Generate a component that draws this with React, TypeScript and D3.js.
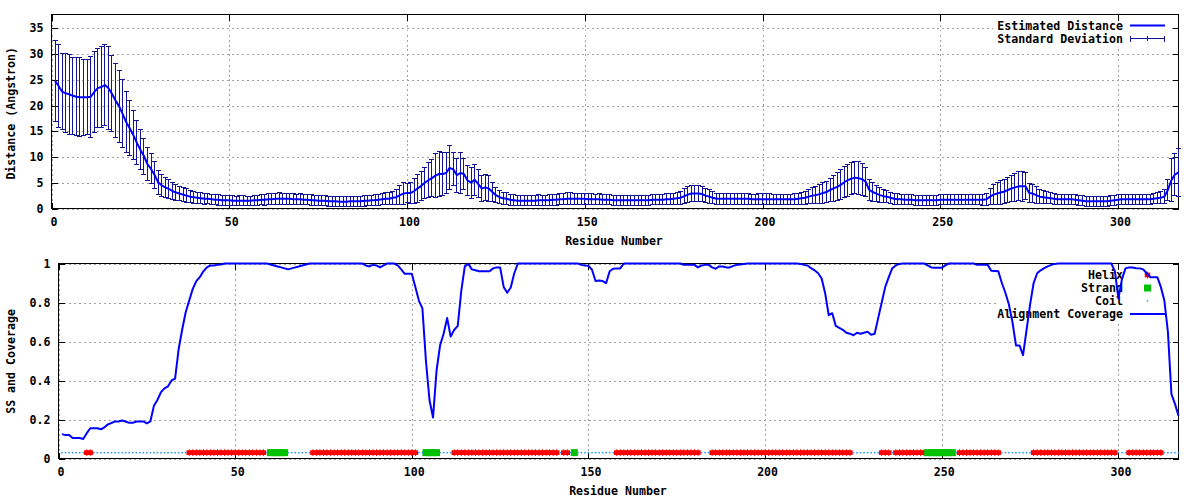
import React from 'react';
import * as d3 from 'd3';

// ---------- DATA (residue i+1 for index i) ----------
const distance = [
  24.8, 23.8, 22.7, 22.4, 22.2, 21.9, 21.7, 21.6, 21.6, 21.6,
  21.7, 22.6, 23.4, 23.6, 24.0, 23.4, 22.3, 21.0, 19.9, 18.4,
  16.8, 15.6, 14.3, 12.8, 11.4, 10.2, 8.6, 7.7, 6.5, 5.1,
  4.5, 4.1, 3.8, 3.4, 3.1, 2.9, 2.7, 2.5, 2.3, 2.2,
  2.1, 2.0, 1.9, 1.9, 1.8, 1.7, 1.7, 1.6, 1.6, 1.6,
  1.5, 1.5, 1.5, 1.5, 1.5, 1.5, 1.6, 1.6, 1.7, 1.7,
  1.8, 1.8, 1.9, 1.9, 1.9, 1.9, 1.9, 1.8, 1.8, 1.8,
  1.7, 1.7, 1.6, 1.6, 1.5, 1.5, 1.5, 1.4, 1.4, 1.4,
  1.3, 1.3, 1.3, 1.4, 1.4, 1.4, 1.4, 1.5, 1.5, 1.6,
  1.6, 1.7, 1.8, 1.9, 1.9, 2.1, 2.2, 2.6, 2.9, 3.0,
  3.0, 3.4, 3.9, 4.4, 5.0, 5.5, 5.9, 6.4, 6.7, 6.7,
  6.9, 7.9, 7.6, 6.5, 6.9, 6.7, 5.5, 5.0, 5.6, 4.8,
  3.9, 4.1, 3.9, 3.2, 2.6, 2.2, 2.0, 1.9, 1.7, 1.6,
  1.5, 1.5, 1.5, 1.5, 1.5, 1.5, 1.6, 1.6, 1.6, 1.6,
  1.7, 1.7, 1.8, 1.8, 1.9, 1.9, 1.9, 1.9, 1.9, 1.9,
  1.8, 1.8, 1.8, 1.8, 1.7, 1.7, 1.7, 1.6, 1.6, 1.6,
  1.6, 1.6, 1.6, 1.6, 1.6, 1.6, 1.6, 1.6, 1.7, 1.7,
  1.7, 1.7, 1.8, 1.8, 1.9, 2.0, 2.1, 2.4, 2.7, 2.9,
  2.9, 2.9, 2.8, 2.5, 2.3, 2.1, 1.9, 1.9, 1.9, 1.9,
  1.9, 1.9, 1.9, 1.9, 1.9, 1.9, 1.8, 1.8, 1.8, 1.8,
  1.8, 1.8, 1.8, 1.8, 1.8, 1.8, 1.8, 1.8, 1.8, 1.9,
  2.0, 2.1, 2.3, 2.5, 2.6, 2.8, 3.0, 3.2, 3.6, 3.9,
  4.2, 4.6, 5.1, 5.5, 5.8, 6.0, 5.9, 5.7, 5.2, 3.6,
  3.2, 2.9, 2.6, 2.4, 2.3, 2.1, 1.9, 1.8, 1.8, 1.7,
  1.7, 1.7, 1.6, 1.6, 1.6, 1.6, 1.6, 1.6, 1.6, 1.7,
  1.7, 1.7, 1.7, 1.7, 1.7, 1.7, 1.7, 1.7, 1.7, 1.7,
  1.7, 1.7, 1.8, 2.3, 2.7, 2.9, 3.1, 3.3, 3.6, 3.9,
  4.1, 4.3, 4.3, 4.3, 3.0, 2.9, 2.6, 2.3, 2.2, 2.1,
  2.0, 1.9, 1.8, 1.8, 1.8, 1.8, 1.8, 1.7, 1.6, 1.5,
  1.4, 1.4, 1.4, 1.4, 1.4, 1.4, 1.4, 1.5, 1.6, 1.7,
  1.8, 1.8, 1.8, 1.8, 1.8, 1.8, 1.8, 1.8, 1.8, 1.9,
  2.0, 2.1, 2.3, 3.6, 5.5, 6.6, 7.0,
];

const stdDev = [
  7.9, 8.0, 7.4, 7.7, 7.8, 7.5, 7.6, 7.7, 7.4, 7.3,
  7.9, 7.9, 7.7, 7.8, 7.9, 8.0, 7.4, 7.2, 7.0, 6.6,
  6.0, 5.3, 4.8, 4.3, 3.9, 3.5, 3.2, 2.9, 2.6, 2.3,
  2.1, 1.9, 1.8, 1.6, 1.5, 1.4, 1.3, 1.3, 1.2, 1.2,
  1.1, 1.1, 1.1, 1.0, 1.0, 1.0, 1.1, 1.0, 1.0, 1.0,
  1.0, 0.9, 1.0, 1.0, 0.9, 0.9, 1.0, 1.0, 1.0, 1.1,
  1.1, 1.1, 1.1, 1.2, 1.1, 1.1, 1.1, 1.1, 1.0, 1.1,
  1.0, 1.0, 1.1, 1.0, 1.0, 1.0, 1.0, 1.0, 1.0, 1.0,
  1.0, 1.0, 1.0, 1.0, 1.0, 1.0, 1.0, 1.1, 1.0, 1.0,
  1.1, 1.1, 1.1, 1.2, 1.2, 1.3, 1.4, 1.8, 2.1, 1.9,
  2.0, 2.5, 2.7, 2.8, 3.0, 3.4, 3.6, 4.3, 4.4, 4.1,
  4.0, 4.3, 3.2, 3.3, 4.0, 3.1, 2.9, 3.0, 3.0, 2.7,
  2.6, 2.6, 2.5, 1.8, 1.4, 1.3, 1.2, 1.2, 1.1, 1.1,
  1.0, 1.0, 1.0, 1.0, 1.0, 1.0, 1.1, 1.0, 1.0, 1.1,
  1.1, 1.1, 1.1, 1.1, 1.2, 1.2, 1.1, 1.1, 1.1, 1.1,
  1.1, 1.1, 1.0, 1.1, 1.0, 1.0, 1.0, 1.0, 1.0, 1.0,
  1.0, 1.0, 1.0, 1.0, 1.0, 1.0, 1.0, 1.0, 1.0, 1.0,
  1.0, 1.0, 1.1, 1.1, 1.1, 1.2, 1.3, 1.4, 1.5, 1.6,
  1.6, 1.6, 1.5, 1.4, 1.3, 1.2, 1.1, 1.1, 1.1, 1.1,
  1.1, 1.1, 1.1, 1.1, 1.1, 1.1, 1.0, 1.0, 1.1, 1.1,
  1.1, 1.1, 1.0, 1.0, 1.0, 1.0, 1.0, 1.0, 1.1, 1.1,
  1.2, 1.3, 1.4, 1.5, 1.6, 1.8, 2.0, 2.1, 2.3, 2.5,
  2.7, 2.9, 3.0, 3.1, 3.1, 3.1, 3.2, 3.1, 2.8, 2.0,
  1.8, 1.6, 1.4, 1.3, 1.2, 1.1, 1.1, 1.1, 1.0, 1.0,
  1.0, 1.0, 1.0, 1.0, 1.0, 1.0, 1.0, 1.0, 1.0, 1.0,
  1.0, 1.0, 1.0, 1.0, 1.0, 1.0, 1.0, 1.0, 1.0, 1.0,
  1.0, 1.1, 1.2, 1.5, 1.9, 2.1, 2.3, 2.4, 2.5, 2.6,
  2.7, 2.8, 2.9, 2.6, 1.8, 1.7, 1.6, 1.4, 1.3, 1.2,
  1.1, 1.1, 1.0, 1.0, 1.0, 1.0, 1.0, 1.0, 1.0, 1.0,
  1.0, 1.0, 1.0, 1.0, 1.0, 1.0, 1.0, 1.0, 1.0, 1.0,
  1.0, 1.0, 1.0, 1.0, 1.0, 1.0, 1.0, 1.0, 1.0, 1.0,
  1.1, 1.2, 1.4, 2.0, 4.2, 4.0, 4.7,
];

const coverage = [
  0.125, 0.12, 0.12, 0.105, 0.105, 0.105, 0.1, 0.13, 0.155, 0.155,
  0.155, 0.15, 0.16, 0.175, 0.182, 0.19, 0.19, 0.195, 0.19, 0.183,
  0.183, 0.19, 0.19, 0.19, 0.18, 0.19, 0.27, 0.3, 0.34, 0.36,
  0.37, 0.4, 0.41, 0.56, 0.66, 0.75, 0.81, 0.87, 0.91, 0.93,
  0.96, 0.98, 0.99, 0.99, 0.993, 0.995, 1, 1, 1, 1,
  1, 1, 1, 1, 1, 1, 1, 1, 1, 0.995,
  0.99, 0.985, 0.98, 0.975, 0.97, 0.975, 0.98, 0.985, 0.99, 0.995,
  1, 1, 1, 1, 1, 1, 1, 1, 1, 1,
  1, 1, 1, 1, 1, 1, 0.99, 0.985, 0.993, 0.99,
  0.98, 0.99, 1, 1, 1, 0.99, 0.97, 0.947, 0.947, 0.947,
  0.88, 0.81, 0.77, 0.5, 0.3, 0.21, 0.45, 0.58, 0.64, 0.72,
  0.625, 0.66, 0.68, 0.86, 0.985, 0.998, 0.97, 0.965, 0.96, 0.96,
  0.96, 0.96, 0.975, 0.98, 0.98, 0.88, 0.85, 0.877, 0.95, 1,
  1, 1, 1, 1, 1, 1, 1, 1, 1, 1,
  1, 1, 1, 1, 1, 1, 1, 0.993, 0.99, 0.988,
  0.968, 0.91, 0.913, 0.91, 0.9, 0.96, 0.973, 0.975, 0.975, 1,
  1, 1, 1, 1, 1, 1, 1, 1, 1, 1,
  1, 1, 1, 1, 1, 1, 0.993, 0.993, 0.993, 0.993,
  0.98, 0.99, 0.993, 0.993, 0.98, 0.973, 0.985, 0.985, 0.98, 0.98,
  0.988, 0.993, 0.995, 0.998, 1, 1, 1, 1, 1, 1,
  1, 1, 1, 1, 1, 1, 1, 1, 1, 0.998,
  0.993, 0.99, 0.976, 0.965, 0.95, 0.923, 0.846, 0.735, 0.745, 0.68,
  0.67, 0.66, 0.645, 0.64, 0.632, 0.645, 0.64, 0.645, 0.65, 0.635,
  0.64, 0.72, 0.8, 0.88, 0.93, 0.976, 0.99, 0.998, 1, 1,
  1, 1, 1, 1, 1, 0.99, 0.98, 0.978, 0.978, 0.978,
  0.99, 1, 1, 1, 1, 1, 1, 1, 1, 0.993,
  0.993, 0.993, 0.993, 0.963, 0.962, 0.96, 0.9, 0.85, 0.79, 0.7,
  0.58, 0.58, 0.53, 0.66, 0.79, 0.9, 0.95, 0.965, 0.976, 0.985,
  0.993, 0.998, 1, 1, 1, 1, 1, 1, 1, 1,
  1, 1, 1, 1, 1, 1, 1, 1, 0.96, 0.82,
  0.92, 0.975, 0.98, 0.98, 0.976, 0.975, 0.97, 0.95, 0.93, 0.93,
  0.93, 0.88, 0.81, 0.65, 0.33, 0.28, 0.22,
];

// secondary structure segments [first residue, last residue]
const helixRanges = [
  [8, 9], [37, 58], [72, 101], [112, 141], [143, 144], [158, 181],
  [185, 224], [233, 235], [237, 245], [255, 266], [276, 299], [303, 312],
];
const strandRanges = [[60, 64], [104, 107], [146, 146], [246, 253]];
const ssLevel = 0.03;

const xTicks = [0, 50, 100, 150, 200, 250, 300];
const distTicks = [0, 5, 10, 15, 20, 25, 30, 35];
const covTicks = [0, 0.2, 0.4, 0.6, 0.8, 1];
const covTickLabels = ['0', '0.2', '0.4', '0.6', '0.8', '1'];
const xMax = 317;
const distMax = 37.7;

const topKey = ['Estimated Distance', 'Standard Deviation'];
const botKey = ['Helix', 'Strand', 'Coil', 'Alignment Coverage'];

// ---------- STYLE ----------
const FONT = "'DejaVu Sans Mono', 'Liberation Mono', monospace";
const FS = 11.6;
const GRID = '#a0a0a0';
const LINE_BLUE = '#0000ff';
const BAR_BLUE = '#141496';
const HELIX_RED = '#ff0000';
const STRAND_GREEN = '#00c000';
const COIL_BLUE = '#1e90ff';

type Scale = d3.ScaleLinear<number, number>;

function Frame({ x, y, yTicks, yLabels }: { x: Scale; y: Scale; yTicks: number[]; yLabels: string[] }) {
  const [l] = x.range();
  const [b] = y.range();
  return (
    <g>
      {xTicks.map((v) => (
        <text key={'xl' + v} x={x(v) + 2.5} y={b + 17.3} textAnchor="middle">{v}</text>
      ))}
      {yTicks.map((v, i) => (
        <text key={'yl' + v} x={l - 8} y={y(v)} dy="0.35em" textAnchor="end">{yLabels[i]}</text>
      ))}
    </g>
  );
}

function Grid({ x, y, yTicks }: { x: Scale; y: Scale; yTicks: number[] }) {
  const [l, r] = x.range();
  const [b, t] = y.range();
  return (
    <g stroke={GRID} strokeWidth={1} strokeDasharray="2,3" shapeRendering="crispEdges">
      {xTicks.map((v) => (
        <line key={'gx' + v} x1={Math.round(x(v)) + 0.5} x2={Math.round(x(v)) + 0.5} y1={t} y2={b} />
      ))}
      {yTicks.map((v) => (
        <line key={'gy' + v} x1={l} x2={r} y1={Math.round(y(v)) + 0.5} y2={Math.round(y(v)) + 0.5} />
      ))}
    </g>
  );
}

function BorderTicks({ x, y, yTicks }: { x: Scale; y: Scale; yTicks: number[] }) {
  const [l, r] = x.range();
  const [b, t] = y.range();
  const L = 6;
  return (
    <g stroke="#000" strokeWidth={1} shapeRendering="crispEdges">
      <rect x={l} y={t} width={r - l} height={b - t} fill="none" />
      {xTicks.map((v) => {
        const px = Math.round(x(v)) + 0.5;
        return (
          <g key={'tx' + v}>
            <line x1={px} x2={px} y1={b} y2={b - L} />
            <line x1={px} x2={px} y1={t} y2={t + L} />
          </g>
        );
      })}
      {yTicks.map((v) => {
        const py = Math.round(y(v)) + 0.5;
        return (
          <g key={'ty' + v}>
            <line x1={l} x2={l + L} y1={py} y2={py} />
            <line x1={r} x2={r - L} y1={py} y2={py} />
          </g>
        );
      })}
    </g>
  );
}

function ssCode(res: number): string {
  for (const [a, b] of strandRanges) if (res >= a && res <= b) return 'E';
  for (const [a, b] of helixRanges) if (res >= a && res <= b) return 'H';
  return 'C';
}

function HelixMark({ cx, cy }: { cx: number; cy: number }) {
  return (
    <g fill={HELIX_RED}>
      <rect x={cx - 2.75} y={cy - 2.35} width={5.5} height={4.7} />
      <rect x={cx - 0.5} y={cy - 3.4} width={1} height={6.8} />
    </g>
  );
}

export default function App() {
  const xTop = d3.scaleLinear().domain([0, xMax]).range([51.5, 1178.5]);
  const yTop = d3.scaleLinear().domain([0, distMax]).range([208.5, 14.5]);
  const xBot = d3.scaleLinear().domain([0, xMax]).range([58.5, 1178.5]);
  const yBot = d3.scaleLinear().domain([0, 1]).range([458.5, 263.5]);

  const distLine = d3.line<number>().x((_, i) => xTop(i + 1)).y((d) => yTop(d))(distance) || '';
  const covLine = d3.line<number>().x((_, i) => xBot(i + 1)).y((d) => yBot(d))(coverage) || '';

  const residues = coverage.map((_, i) => i + 1);
  const ss = residues.map(ssCode);
  const ssY = yBot(ssLevel);

  const keyTextX = 1123;
  const sampleX1 = 1130;
  const sampleX2 = 1165;
  const sampleMid = 1147.5;

  return (
    <svg
      width={1200}
      height={500}
      style={{ position: 'absolute', left: 0, top: 0, background: '#fff' }}
      fontFamily={FONT}
      fontSize={FS}
      fontWeight="bold"
    >
      <rect x={0} y={0} width={1200} height={500} fill="#fff" />

      {/* ===== TOP PANEL ===== */}
      <Grid x={xTop} y={yTop} yTicks={distTicks} />
      <rect x={993} y={15} width={179} height={31.5} fill="#fff" />
      <Frame x={xTop} y={yTop} yTicks={distTicks} yLabels={distTicks.map(String)} />
      <text x={614} y={245} textAnchor="middle">Residue Number</text>
      <text transform="translate(14.5,113.3) rotate(-90)" textAnchor="middle">Distance (Angstron)</text>
      <BorderTicks x={xTop} y={yTop} yTicks={distTicks} />

      <text x={keyTextX} y={25.5} dy="0.35em" textAnchor="end">{topKey[0]}</text>
      <line x1={sampleX1} x2={sampleX2} y1={25.5} y2={25.5} stroke={LINE_BLUE} strokeWidth={2} />
      <text x={keyTextX} y={38.5} dy="0.35em" textAnchor="end">{topKey[1]}</text>
      <g stroke={BAR_BLUE} strokeWidth={1} shapeRendering="crispEdges">
        <line x1={sampleX1} x2={sampleX2} y1={38.5} y2={38.5} />
        <line x1={sampleX1 + 0.5} x2={sampleX1 + 0.5} y1={35.5} y2={41.5} />
        <line x1={sampleX2 - 0.5} x2={sampleX2 - 0.5} y1={35.5} y2={41.5} />
        <line x1={sampleMid} x2={sampleMid} y1={36} y2={41} />
      </g>

      {/* error bars */}
      <g stroke={BAR_BLUE} strokeWidth={1} shapeRendering="crispEdges">
        {distance.map((d, i) => {
          const px = xTop(i + 1);
          const y1 = yTop(d + stdDev[i]);
          const y2 = yTop(d - stdDev[i]);
          return (
            <g key={'eb' + i}>
              <line x1={px} x2={px} y1={y1} y2={y2} />
              <line x1={px - 2.5} x2={px + 2.5} y1={y1} y2={y1} />
              <line x1={px - 2.5} x2={px + 2.5} y1={y2} y2={y2} />
            </g>
          );
        })}
      </g>
      <path d={distLine} fill="none" stroke={LINE_BLUE} strokeWidth={2} strokeLinejoin="round" />

      {/* ===== BOTTOM PANEL ===== */}
      <Grid x={xBot} y={yBot} yTicks={covTicks} />
      <rect x={998} y={264} width={174} height={57.5} fill="#fff" />
      <Frame x={xBot} y={yBot} yTicks={covTicks} yLabels={covTickLabels} />
      <text x={618} y={495} textAnchor="middle">Residue Number</text>
      <text transform="translate(14.5,361.5) rotate(-90)" textAnchor="middle">SS and Coverage</text>
      <BorderTicks x={xBot} y={yBot} yTicks={covTicks} />

      <text x={keyTextX} y={275} dy="0.35em" textAnchor="end">{botKey[0]}</text>
      <text x={keyTextX} y={288} dy="0.35em" textAnchor="end">{botKey[1]}</text>
      <text x={keyTextX} y={301} dy="0.35em" textAnchor="end">{botKey[2]}</text>
      <text x={keyTextX} y={314} dy="0.35em" textAnchor="end">{botKey[3]}</text>
      <HelixMark cx={sampleMid} cy={275} />
      <rect x={sampleMid - 3.5} y={288 - 3.5} width={7} height={7} fill={STRAND_GREEN} />
      <rect x={sampleMid - 0.75} y={301 - 0.75} width={1.5} height={1.5} fill={COIL_BLUE} />
      <line x1={sampleX1} x2={sampleX2} y1={314} y2={314} stroke={LINE_BLUE} strokeWidth={2} />

      <g>
        {residues.map((r, i) =>
          ss[i] === 'H' ? <HelixMark key={'h' + r} cx={xBot(r)} cy={ssY} /> : null
        )}
      </g>
      <g fill={STRAND_GREEN}>
        {residues.map((r, i) =>
          ss[i] === 'E' ? <rect key={'e' + r} x={xBot(r) - 3.5} y={ssY - 3.5} width={7} height={7} /> : null
        )}
      </g>
      <g fill={COIL_BLUE}>
        {residues.map((r, i) =>
          ss[i] === 'C' ? <rect key={'c' + r} x={xBot(r) - 0.75} y={ssY - 0.75} width={1.5} height={1.5} /> : null
        )}
      </g>
      <path d={covLine} fill="none" stroke={LINE_BLUE} strokeWidth={2} strokeLinejoin="round" />
    </svg>
  );
}
